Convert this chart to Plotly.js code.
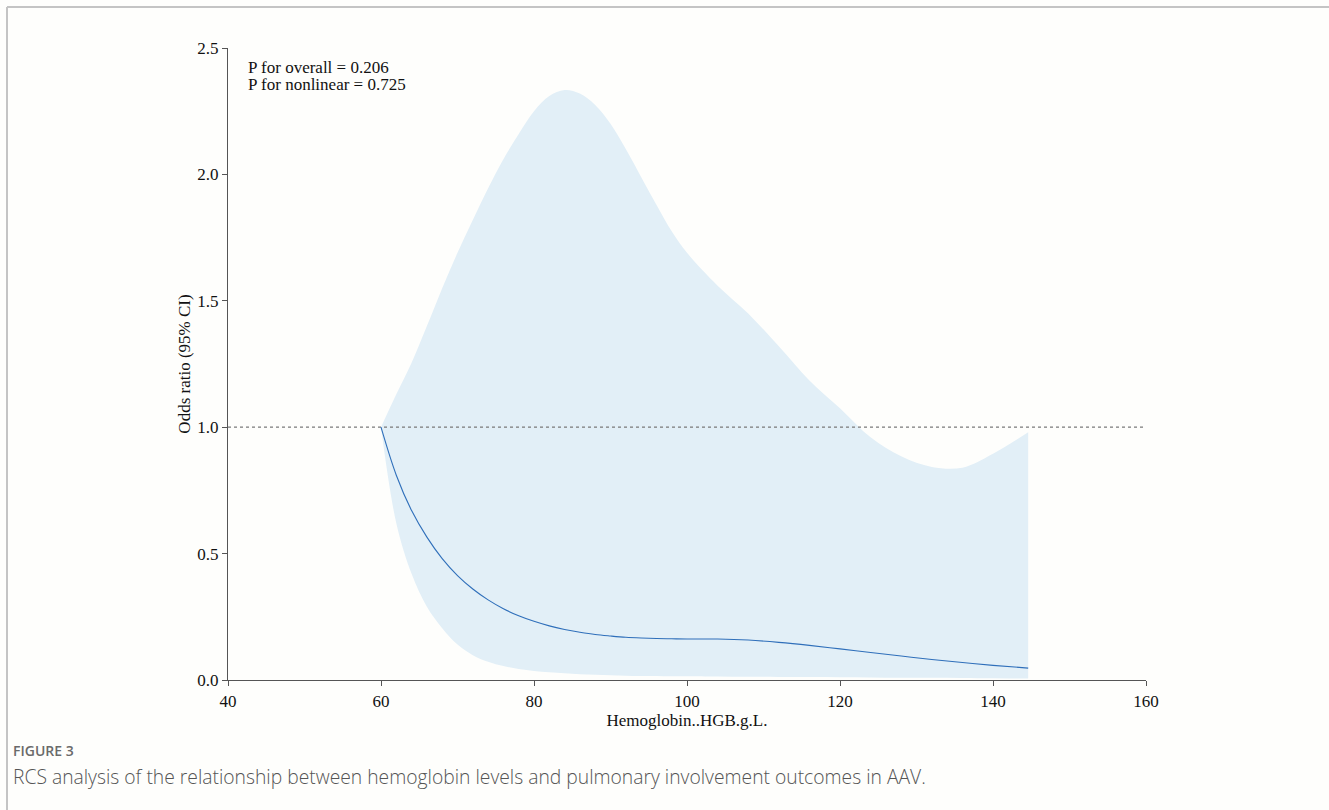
<!DOCTYPE html>
<html>
<head>
<meta charset="utf-8">
<script src="https://cdn.plot.ly/plotly-3.0.1.min.js"></script>
<style>
html,body{margin:0;padding:0;background:#ffffff;}
#chart{width:1329px;height:810px;}
</style>
</head>
<body>
<div id="chart"></div>
<script>
// Hemoglobin (g/L) grid
const hgb = [60,62,64,66,68,70,72,74,76,78,80,82,84,86,88,90,92,94,96,98,100,104,108,112,116,120,124,128,132,136,140,144.6];
// Odds ratio estimate
const orEst = [1.0,0.81,0.67,0.565,0.48,0.413,0.36,0.317,0.282,0.254,0.232,0.214,0.20,0.189,0.18,0.174,0.169,0.166,0.164,0.163,0.162,0.162,0.158,0.149,0.137,0.123,0.109,0.095,0.081,0.069,0.058,0.047];
// Upper 95% CI
const ciUpper = [1.0,1.13,1.255,1.40,1.55,1.69,1.82,1.945,2.06,2.16,2.25,2.31,2.334,2.32,2.275,2.20,2.10,1.99,1.88,1.775,1.69,1.56,1.45,1.32,1.185,1.075,0.96,0.885,0.843,0.84,0.895,0.98];
// Lower 95% CI
const ciLower = [1.0,0.62,0.42,0.29,0.205,0.14,0.098,0.072,0.055,0.044,0.036,0.031,0.027,0.023,0.021,0.019,0.017,0.016,0.016,0.015,0.015,0.014,0.013,0.012,0.012,0.011,0.010,0.009,0.009,0.008,0.007,0.006];

const xTicks = [40,60,80,100,120,140,160];
const yTicks = [0,0.5,1.0,1.5,2.0,2.5];
const yTickText = ["0.0","0.5","1.0","1.5","2.0","2.5"];
const annotLines = ["P for overall = 0.206","P for nonlinear = 0.725"];
const figLabel = "FIGURE 3";
const captionText = "RCS analysis of the relationship between hemoglobin levels and pulmonary involvement outcomes in AAV.";

const W = 1329, H = 810;
const L = 228, R = 1146, T = 48, B = 680;
const px = v => (v - L) / (R - L);
const py = v => (B - v) / (B - T);

const traces = [
  {x: hgb, y: ciUpper, type: 'scatter', mode: 'lines',
   line: {width: 0, color: 'rgba(0,0,0,0)', shape: 'spline', smoothing: 1}, hoverinfo: 'skip', showlegend: false},
  {x: hgb, y: ciLower, type: 'scatter', mode: 'lines', fill: 'tonexty',
   fillcolor: '#e2eff7', line: {width: 0, color: 'rgba(0,0,0,0)', shape: 'spline', smoothing: 1}, hoverinfo: 'skip', showlegend: false},
  {x: [40,160], y: [1,1], type: 'scatter', mode: 'lines',
   line: {color: '#7a7a7a', width: 1.2, dash: '3px,3px'}, hoverinfo: 'skip', showlegend: false},
  {x: hgb, y: orEst, type: 'scatter', mode: 'lines',
   line: {color: '#2f6fba', width: 1.1, shape: 'spline', smoothing: 1}, showlegend: false}
];

const serif = "'Liberation Serif', 'Times New Roman', serif";
const layout = {
  width: W, height: H,
  margin: {l: L, r: W - R, t: T, b: H - B, pad: 0},
  paper_bgcolor: '#fefefc', plot_bgcolor: '#fefefc',
  showlegend: false,
  xaxis: {range: [40,160], tickvals: xTicks, ticktext: xTicks.map(String),
    showgrid: false, zeroline: false, showline: true, linecolor: '#555', linewidth: 1.2,
    ticks: 'outside', ticklen: 5, tickcolor: '#555', tickwidth: 1,
    tickfont: {family: serif, size: 17, color: '#111'},
    title: {text: 'Hemoglobin..HGB.g.L.', font: {family: serif, size: 17, color: '#111'}, standoff: 0}},
  yaxis: {range: [0,2.5], tickvals: yTicks, ticktext: yTickText,
    showgrid: false, zeroline: false, showline: true, linecolor: '#555', linewidth: 1.2,
    ticks: 'outside', ticklen: 5, tickcolor: '#555', tickwidth: 1,
    tickfont: {family: serif, size: 17, color: '#111'},
    title: {text: 'Odds ratio (95% CI)', font: {family: serif, size: 17, color: '#111'}, standoff: 2}},
  annotations: [
    {xref: 'paper', yref: 'paper', x: px(246), y: py(68), xanchor: 'left', yanchor: 'middle',
     text: annotLines[0], showarrow: false, font: {family: serif, size: 17, color: '#111'}},
    {xref: 'paper', yref: 'paper', x: px(246), y: py(85), xanchor: 'left', yanchor: 'middle',
     text: annotLines[1], showarrow: false, font: {family: serif, size: 17, color: '#111'}},
    {xref: 'paper', yref: 'paper', x: px(11), y: py(750), xanchor: 'left', yanchor: 'middle',
     text: figLabel, showarrow: false, font: {family: "'Open Sans', sans-serif", size: 14, color: '#6a6a6a', weight: 600}},
    {xref: 'paper', yref: 'paper', x: px(11), y: py(776), xanchor: 'left', yanchor: 'middle',
     text: captionText, showarrow: false, font: {family: "'Open Sans', sans-serif", size: 19.3, color: '#555', weight: 300}}
  ],
  shapes: [
    {type: 'line', xref: 'paper', yref: 'paper', x0: px(7), x1: px(1329), y0: py(7), y1: py(7),
     line: {color: '#c4c4c4', width: 2}},
    {type: 'line', xref: 'paper', yref: 'paper', x0: px(7), x1: px(7), y0: py(7), y1: py(810),
     line: {color: '#c4c4c4', width: 2}}
  ]
};

Plotly.newPlot('chart', traces, layout, {displayModeBar: false, staticPlot: true});
</script>
</body>
</html>
